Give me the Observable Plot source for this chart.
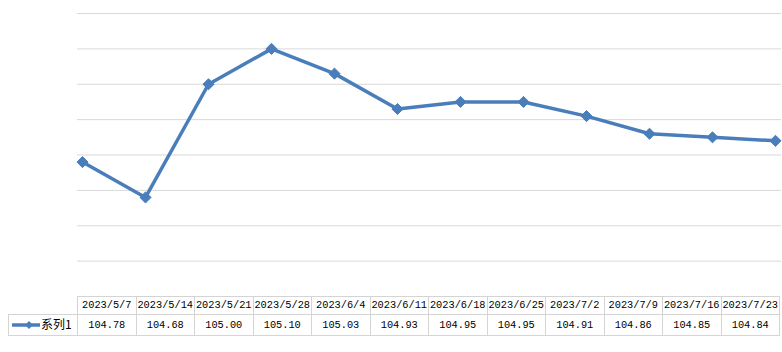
<!DOCTYPE html>
<html>
<head>
<meta charset="utf-8">
<script src="https://cdn.jsdelivr.net/npm/d3@7"></script>
<script src="https://cdn.jsdelivr.net/npm/@observablehq/plot@0.6"></script>
<style>
  html, body { margin: 0; padding: 0; background: #fff; }
  #wrap { position: relative; width: 782px; height: 352px; overflow: hidden; }
  #chart { position: absolute; left: 0; top: 0; }
  #tbl { position: absolute; left: 8px; top: 296px; border-collapse: collapse; table-layout: fixed;
         font-family: "Liberation Mono", "DejaVu Sans Mono", monospace; font-size: 10.3px; color: #000; }
  #tbl td { border: 1px solid #d4d4d4; text-align: center; padding: 0; height: 17px; line-height: 17px; white-space: nowrap; }
  #tbl td.blank { border-top: none; border-left: none; }
  #tbl td.leg { text-align: left; padding-left: 2px; }
</style>
</head>
<body>
<div id="wrap">
  <div id="chart"></div>
  <table id="tbl"></table>
</div>
<script>
const dates = ["2023/5/7","2023/5/14","2023/5/21","2023/5/28","2023/6/4","2023/6/11","2023/6/18","2023/6/25","2023/7/2","2023/7/9","2023/7/16","2023/7/23"];
const values = [104.78,104.68,105.00,105.10,105.03,104.93,104.95,104.95,104.91,104.86,104.85,104.84];
const seriesName = "系列1";
const yTicks = [104.4,104.5,104.6,104.7,104.8,104.9,105.0,105.1,105.2];
const color = "#4a7ebb";

const data = dates.map((d, i) => ({date: d, value: values[i]}));

const chart = Plot.plot({
  width: 782,
  height: 297,
  marginLeft: 77,
  marginRight: 1,
  marginTop: 13,
  marginBottom: 1,
  style: {background: "#fff"},
  x: {type: "point", domain: dates, padding: 0, insetLeft: 3, insetRight: 5, axis: null},
  y: {domain: [104.4, 105.2], axis: null},
  marks: [
    Plot.ruleY(yTicks.slice(1), {stroke: "#d9d9d9", strokeWidth: 1}),
    Plot.line(data, {x: "date", y: "value", stroke: color, strokeWidth: 3.5, strokeLinejoin: "round"}),
    Plot.dot(data, {x: "date", y: "value", symbol: "diamond2", r: 5, fill: color, stroke: color, strokeWidth: 1})
  ]
});
document.getElementById("chart").appendChild(chart);

const tbl = document.getElementById("tbl");
const colW = 58.5;
let cg = '<colgroup><col style="width:69px">' + dates.map(() => `<col style="width:${colW}px">`).join("") + '</colgroup>';
let head = '<tr><td class="blank"></td>' + dates.map(d => `<td>${d}</td>`).join("") + '</tr>';
const sw = `<svg width="30" height="10" style="vertical-align:-1px"><line x1="1" y1="5" x2="29" y2="5" stroke="${color}" stroke-width="3.5"/><path d="M18,1L22,5L18,9L14,5Z" fill="${color}"/></svg>`;
let row = `<tr><td class="leg">${sw}<span style="font-family:'Noto Sans CJK SC';font-size:12px">${seriesName}</span></td>` + values.map(v => `<td>${v.toFixed(2)}</td>`).join("") + '</tr>';
tbl.innerHTML = cg + head + row;
</script>
</body>
</html>
